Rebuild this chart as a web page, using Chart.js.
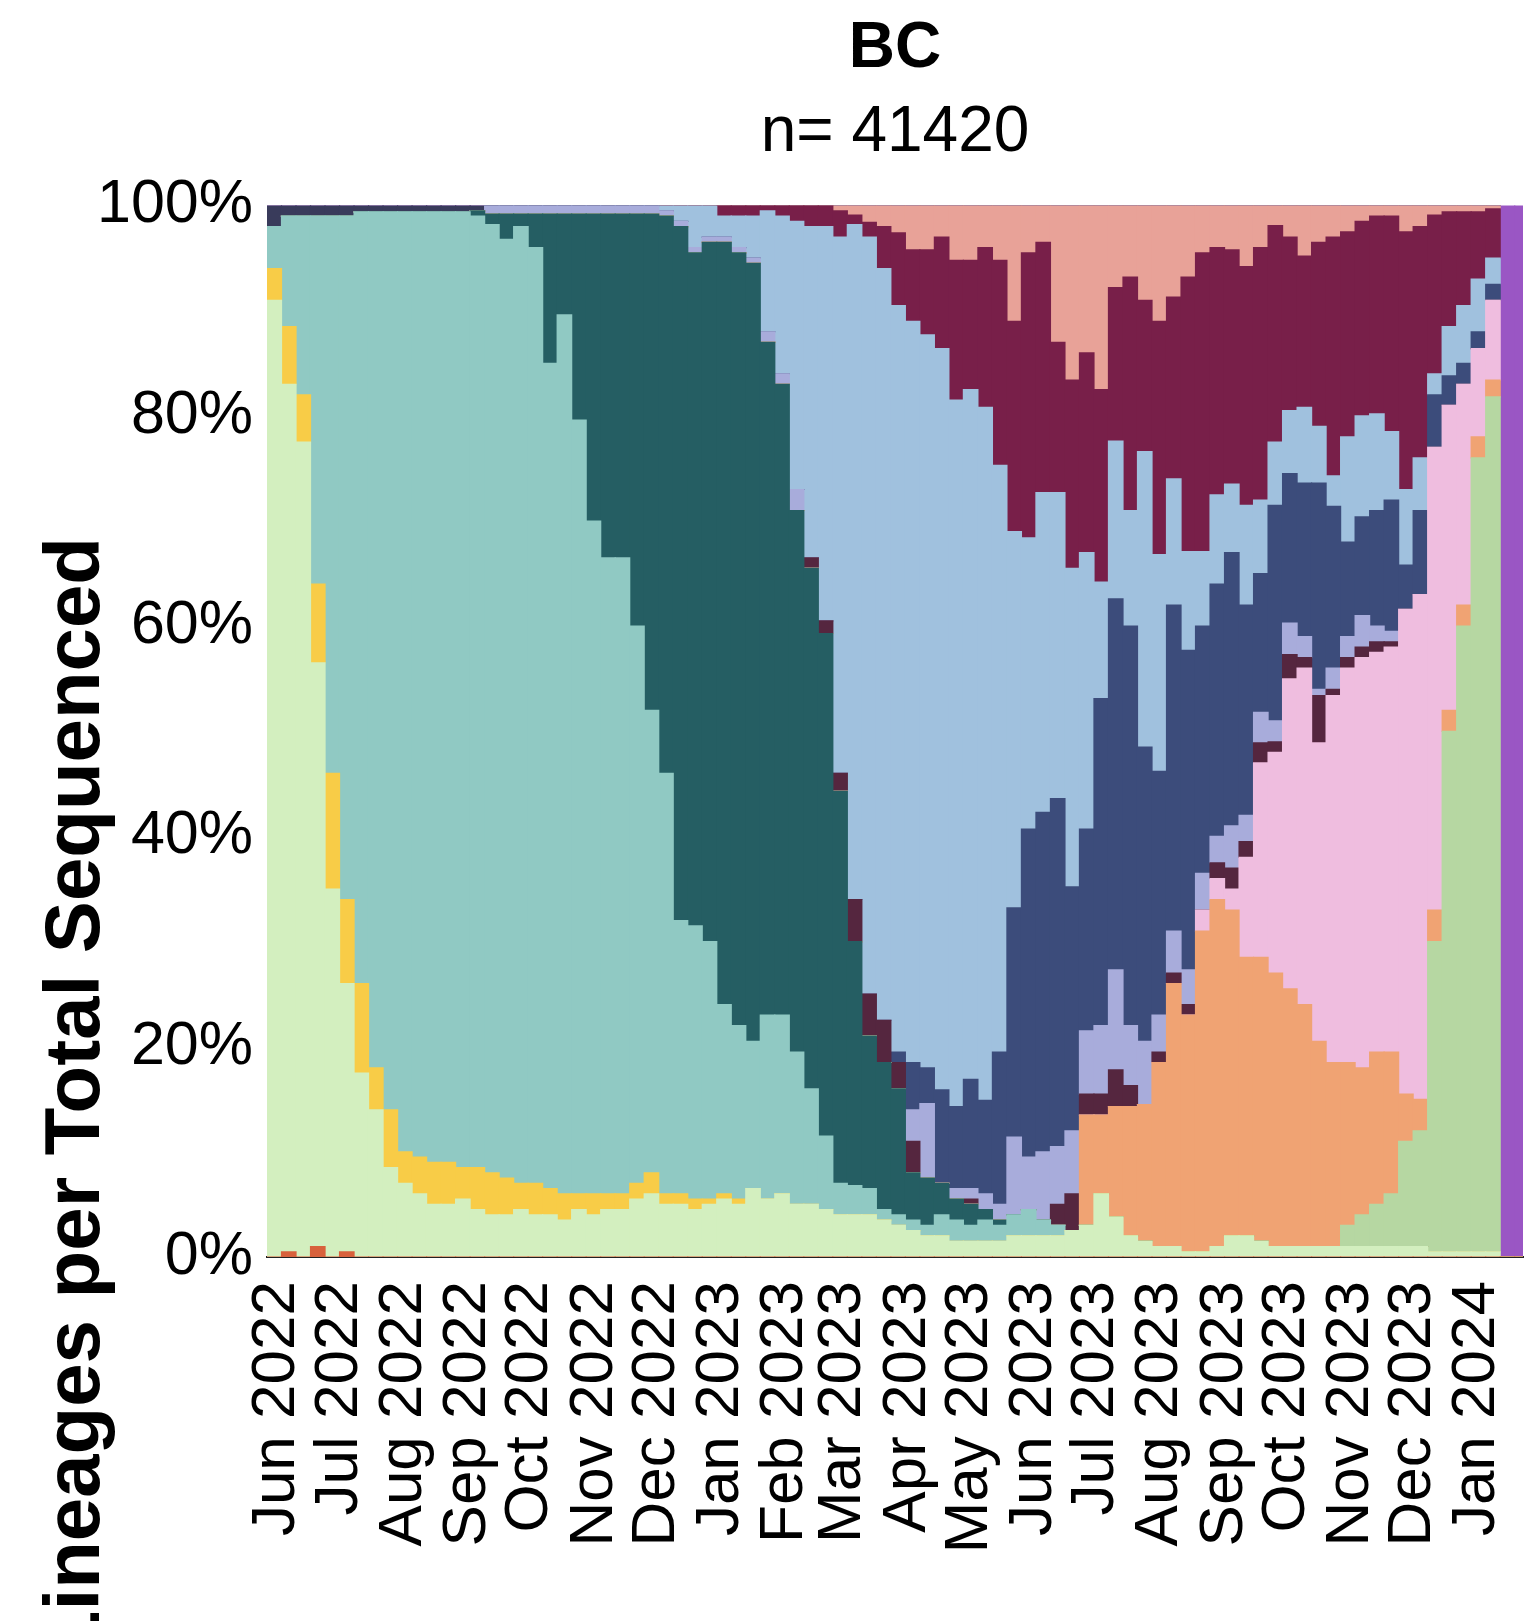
<!DOCTYPE html>
<html>
<head>
<meta charset="utf-8">
<title>BC lineages</title>
<script src="https://cdn.jsdelivr.net/npm/chart.js@4.4.1/dist/chart.umd.min.js"></script>
<style>
  html, body { margin: 0; padding: 0; background: #fff; }
  canvas { display: block; }
</style>
</head>
<body>
<canvas id="bc" width="1538" height="1621"></canvas>
<script>
// weekly share (%) per lineage group, first week starts 27 May 2022
// stack order = bottom to top
const red = [
  0, 0.5, 0, 1, 0, 0.5, 0, 0, 0, 0,
  0, 0, 0, 0, 0, 0, 0, 0, 0, 0,
  0, 0, 0, 0, 0, 0, 0, 0, 0, 0,
  0, 0, 0, 0, 0, 0, 0, 0, 0, 0,
  0, 0, 0, 0, 0, 0, 0, 0, 0, 0,
  0, 0, 0, 0, 0, 0, 0, 0, 0, 0,
  0, 0, 0, 0, 0, 0, 0, 0, 0, 0,
  0, 0, 0, 0, 0, 0, 0, 0, 0, 0,
  0, 0, 0, 0, 0, 0, 0
];
const paleGreen = [
  91, 82.5, 77.5, 55.5, 35, 25.5, 17.5, 14, 8.5, 7,
  6, 5, 5, 5.5, 4.5, 4, 4, 4.5, 4, 4,
  3.5, 4.5, 4, 4.5, 4.5, 5.5, 6, 5, 5, 4.5,
  5, 5.5, 5, 6.5, 5.5, 6, 5, 5, 4.5, 4,
  4, 4, 3.5, 3, 2.5, 2, 2, 1.5, 1.5, 1.5,
  1.5, 2, 2, 2, 2, 2.5, 3, 6, 3.8, 2,
  1.5, 1, 1, 0.5, 0.5, 1, 2, 2, 1.5, 1,
  1, 1, 1, 1, 1, 1, 1, 1, 1, 1,
  0.5, 0.5, 0.5, 0.5, 0.5, 0, 0
];
const yellow = [
  3, 5.5, 4.5, 7.5, 11, 8, 8.5, 4, 5.5, 3,
  3.5, 4, 4, 3, 4, 4, 3.5, 2.5, 3, 2.5,
  2.5, 1.5, 2, 1.5, 1.5, 1.5, 2, 1, 1, 1,
  0.5, 0.5, 0.5, 0, 0, 0, 0, 0, 0, 0,
  0, 0, 0, 0, 0, 0, 0, 0, 0, 0,
  0, 0, 0, 0, 0, 0, 0, 0, 0, 0,
  0, 0, 0, 0, 0, 0, 0, 0, 0, 0,
  0, 0, 0, 0, 0, 0, 0, 0, 0, 0,
  0, 0, 0, 0, 0, 0, 0
];
const lightTeal = [
  4, 10.5, 17, 35, 53, 65, 73.4, 81.4, 85.4, 89.4,
  89.9, 90.4, 90.4, 90.9, 90.5, 90.2, 89.3, 91, 89, 78.5,
  83.6, 73.6, 64, 60.5, 60.5, 53, 44, 40, 26, 26,
  24.5, 18, 16.5, 14, 17.5, 17, 14.5, 11, 7, 3,
  2.8, 2.5, 1, 1, 1, 1, 2, 2, 1.5, 2,
  1.5, 2, 2.5, 1.5, 1, 0, 0, 0, 0, 0,
  0, 0, 0, 0, 0, 0, 0, 0, 0, 0,
  0, 0, 0, 0, 0, 0, 0, 0, 0, 0,
  0, 0, 0, 0, 0, 0, 0
];
const darkTeal = [
  0, 0, 0, 0, 0, 0, 0, 0, 0, 0,
  0, 0, 0, 0, 0.5, 1, 2.4, 1.2, 3.2, 14.2,
  9.6, 19.6, 29.2, 32.7, 32.7, 39.2, 47.2, 53, 66, 64,
  66.5, 72.5, 73.5, 74, 64, 60, 51.5, 49.5, 47.8, 37.3,
  23.2, 14.5, 14, 12, 4.5, 4.5, 3, 2, 2, 1,
  0.5, 0, 0, 0, 0, 0, 0, 0, 0, 0,
  0, 0, 0, 0, 0, 0, 0, 0, 0, 0,
  0, 0, 0, 0, 0, 0, 0, 0, 0, 0,
  0, 0, 0, 0, 0, 0, 0
];
const sage = [
  0, 0, 0, 0, 0, 0, 0, 0, 0, 0,
  0, 0, 0, 0, 0, 0, 0, 0, 0, 0,
  0, 0, 0, 0, 0, 0, 0, 0, 0, 0,
  0, 0, 0, 0, 0, 0, 0, 0, 0, 0,
  0, 0, 0, 0, 0, 0, 0, 0, 0, 0,
  0, 0, 0, 0, 0, 0, 0, 0, 0, 0,
  0, 0, 0, 0, 0, 0, 0, 0, 0, 0,
  0, 0, 0, 0, 2, 3, 4, 5, 10, 11,
  29.5, 49.5, 59.5, 75.5, 81.3, 0, 0
];
const orange = [
  0, 0, 0, 0, 0, 0, 0, 0, 0, 0,
  0, 0, 0, 0, 0, 0, 0, 0, 0, 0,
  0, 0, 0, 0, 0, 0, 0, 0, 0, 0,
  0, 0, 0, 0, 0, 0, 0, 0, 0, 0,
  0, 0, 0, 0, 0, 0, 0, 0, 0, 0,
  0, 0, 0, 0, 0, 0, 10.5, 7.5, 10.5, 12.3,
  13, 17.5, 25, 22.5, 30.5, 33, 31, 26.5, 27, 26,
  24.5, 23, 19.5, 17.5, 15.5, 14, 14.5, 13.5, 4.5, 3,
  3, 2, 2, 2, 1.6, 0, 0
];
const pink = [
  0, 0, 0, 0, 0, 0, 0, 0, 0, 0,
  0, 0, 0, 0, 0, 0, 0, 0, 0, 0,
  0, 0, 0, 0, 0, 0, 0, 0, 0, 0,
  0, 0, 0, 0, 0, 0, 0, 0, 0, 0,
  0, 0, 0, 0, 0, 0, 0, 0, 0, 0,
  0, 0, 0, 0, 0, 0, 0, 0, 0, 0,
  0, 0, 0, 0, 2, 2, 2, 9.5, 18.5, 21,
  29.5, 32, 28.4, 34.9, 37.5, 39, 38, 38.5, 46.1, 48,
  44, 29, 21, 8.4, 7.6, 0, 0
];
const plum = [
  0, 0, 0, 0, 0, 0, 0, 0, 0, 0,
  0, 0, 0, 0, 0, 0, 0, 0, 0, 0,
  0, 0, 0, 0, 0, 0, 0, 0, 0, 0,
  0, 0, 0, 0, 0, 0, 0, 1, 1.2, 1.7,
  4, 4, 4, 2.5, 3, 0, 0, 0, 0.5, 0,
  0, 0, 0, 0, 2, 3.5, 2, 2, 3.5, 2,
  0, 1, 1, 1, 0, 1.5, 2, 1.5, 1.9, 1,
  2.3, 1, 4.5, 0.6, 1, 1, 1, 0.5, 0, 0,
  0, 0, 0, 0, 0, 0, 0
];
const lavender = [
  0, 0, 0, 0, 0, 0, 0, 0, 0, 0,
  0, 0, 0, 0, 0, 0.8, 0.8, 0.8, 0.8, 0.8,
  0.8, 0.8, 0.8, 0.8, 0.8, 0.8, 0.8, 0.5, 0.5, 0.5,
  0.5, 0.5, 0.5, 0.5, 1, 1, 2, 0, 0, 0,
  0, 0, 0, 0, 3, 7.1, 0, 1, 1, 1.5,
  1.5, 7.4, 5, 6.5, 5.5, 6, 6, 6.5, 9.5, 5.7,
  6, 3.5, 4, 3.3, 3.5, 2.5, 4, 2.5, 2.9, 2,
  3, 2, 0.6, 2, 2, 3, 1.5, 1, 0, 0,
  0, 0, 0, 0, 0, 0, 0
];
const navy = [
  0, 0, 0, 0, 0, 0, 0, 0, 0, 0,
  0, 0, 0, 0, 0, 0, 0, 0, 0, 0,
  0, 0, 0, 0, 0, 0, 0, 0, 0, 0,
  0, 0, 0, 0, 0, 0, 0, 0, 0, 0,
  0, 0, 0, 1, 4.5, 3.4, 8.9, 7.8, 10.4, 8.9,
  14.5, 21.8, 31.2, 32.3, 33.1, 23.2, 19.2, 31.1, 35.3, 38,
  28, 23.2, 31, 30.4, 23.5, 24, 26, 20, 13.2, 20.5,
  14.2, 14.6, 19.6, 15.4, 9, 9.4, 11, 12.5, 4.2, 8,
  5, 2.8, 2, 1.6, 1.5, 0, 0
];
const lightBlue = [
  0, 0, 0, 0, 0, 0, 0, 0, 0, 0,
  0, 0, 0, 0, 0, 0, 0, 0, 0, 0,
  0, 0, 0, 0, 0, 0, 0, 0.5, 1.5, 4,
  3, 2, 3, 4, 11.5, 15, 25.5, 31.5, 37.5, 51,
  64.2, 72, 71.5, 71, 70.5, 69.7, 70.5, 67.2, 65.6, 65.9,
  55.8, 35.8, 27.7, 30.4, 29.1, 30.3, 26.3, 11.1, 15, 11,
  28.1, 20.6, 12, 9.4, 7.1, 8.5, 6.5, 9.5, 7, 6,
  6, 7.2, 5.4, 2.9, 10, 9.6, 9.2, 6.5, 7.2, 5,
  2, 4.7, 5.5, 5, 2.5, 0, 0
];
const maroon = [
  0, 0, 0, 0, 0, 0, 0, 0, 0, 0,
  0, 0, 0, 0, 0, 0, 0, 0, 0, 0,
  0, 0, 0, 0, 0, 0, 0, 0, 0, 0,
  0, 1, 1, 1, 0.5, 1, 1.5, 2, 2, 2.5,
  0.9, 1.4, 4, 6.9, 6.8, 8.1, 10.6, 13.3, 12.3, 15.2,
  19.5, 20, 27.1, 23.8, 14.3, 17.9, 19, 18.3, 14.6, 22.2,
  14.4, 22.2, 17.3, 26.1, 28.4, 23.5, 22.3, 22.7, 24, 20.6,
  16.5, 14.4, 17.5, 22.7, 19.5, 18.5, 18.8, 20.5, 24.5, 22,
  15.1, 10.9, 8.9, 6.4, 4.7, 0, 0
];
const salmon = [
  0, 0, 0, 0, 0, 0, 0, 0, 0, 0,
  0, 0, 0, 0, 0, 0, 0, 0, 0, 0,
  0, 0, 0, 0, 0, 0, 0, 0, 0, 0,
  0, 0, 0, 0, 0, 0, 0, 0, 0, 0.5,
  0.9, 1.6, 2, 2.6, 4.2, 4.2, 3, 5.2, 5.2, 4,
  5.2, 11, 4.5, 3.5, 13, 16.6, 14, 17.5, 7.8, 6.8,
  9, 11, 8.7, 6.8, 4.5, 4, 4.2, 5.8, 4, 1.9,
  3, 4.8, 3.5, 3, 2.5, 1.5, 1, 1, 2.5, 2,
  0.9, 0.6, 0.6, 0.6, 0.3, 0, 0
];
const indigo = [
  2, 1, 1, 1, 1, 1, 0.6, 0.6, 0.6, 0.6,
  0.6, 0.6, 0.6, 0.6, 0.5, 0, 0, 0, 0, 0,
  0, 0, 0, 0, 0, 0, 0, 0, 0, 0,
  0, 0, 0, 0, 0, 0, 0, 0, 0, 0,
  0, 0, 0, 0, 0, 0, 0, 0, 0, 0,
  0, 0, 0, 0, 0, 0, 0, 0, 0, 0,
  0, 0, 0, 0, 0, 0, 0, 0, 0, 0,
  0, 0, 0, 0, 0, 0, 0, 0, 0, 0,
  0, 0, 0, 0, 0, 0, 0
];
const purple = [
  0, 0, 0, 0, 0, 0, 0, 0, 0, 0,
  0, 0, 0, 0, 0, 0, 0, 0, 0, 0,
  0, 0, 0, 0, 0, 0, 0, 0, 0, 0,
  0, 0, 0, 0, 0, 0, 0, 0, 0, 0,
  0, 0, 0, 0, 0, 0, 0, 0, 0, 0,
  0, 0, 0, 0, 0, 0, 0, 0, 0, 0,
  0, 0, 0, 0, 0, 0, 0, 0, 0, 0,
  0, 0, 0, 0, 0, 0, 0, 0, 0, 0,
  0, 0, 0, 0, 0, 100, 100
];

// x axis month labels, one per month start
const monthTickLabels = [
  'Jun 2022', 'Jul 2022', 'Aug 2022', 'Sep 2022', 'Oct 2022', 'Nov 2022', 'Dec 2022',
  'Jan 2023', 'Feb 2023', 'Mar 2023', 'Apr 2023', 'May 2023', 'Jun 2023', 'Jul 2023',
  'Aug 2023', 'Sep 2023', 'Oct 2023', 'Nov 2023', 'Dec 2023', 'Jan 2024'
];
const yTickLabels = ['0%', '20%', '40%', '60%', '80%', '100%'];

const titleText = 'BC';
const subtitleText = 'n= 41420';
const yTitleText = 'Lineages per Total Sequenced';

// x is counted in days from the first week start
const DAY = 86400000;
const origin = Date.UTC(2022, 4, 27);
const weekMid = red.map((v, i) => i * 7 + 3.5);
const monthTickDays = monthTickLabels.map((lbl, k) => (Date.UTC(2022, 5 + k, 1) - origin) / DAY);

const font = "'Liberation Sans', Arial, Helvetica, sans-serif";

const series = [
  ['red', red, '#d8613c'],
  ['paleGreen', paleGreen, '#d3efbf'],
  ['yellow', yellow, '#f8cc47'],
  ['lightTeal', lightTeal, '#90c9c3'],
  ['darkTeal', darkTeal, '#255e63'],
  ['sage', sage, '#b6d7a2'],
  ['orange', orange, '#f0a373'],
  ['pink', pink, '#efbddf'],
  ['plum', plum, '#55263f'],
  ['lavender', lavender, '#a8acdb'],
  ['navy', navy, '#3c4c7b'],
  ['lightBlue', lightBlue, '#a0c1de'],
  ['maroon', maroon, '#781f49'],
  ['salmon', salmon, '#e8a298'],
  ['indigo', indigo, '#393b5b'],
  ['purple', purple, '#9a56c4']
];

const datasets = series.map(([name, vals, col]) => ({
  label: name,
  data: vals,
  backgroundColor: col,
  borderWidth: 0,
  barPercentage: 1,
  categoryPercentage: 1,
  inflateAmount: 0.6
}));

// rotated y title, its top end sits below the middle like the source
const yTitlePlugin = {
  id: 'yTitle',
  afterDraw(chart) {
    const ctx = chart.ctx;
    ctx.save();
    ctx.font = 'bold 78px ' + font;
    ctx.fillStyle = '#000';
    ctx.translate(99, 537);
    ctx.rotate(-Math.PI / 2);
    ctx.textAlign = 'right';
    ctx.textBaseline = 'alphabetic';
    ctx.fillText(yTitleText, 0, 0);
    ctx.restore();
  }
};

const config = {
  type: 'bar',
  data: { labels: weekMid, datasets },
  options: {
    responsive: false,
    devicePixelRatio: 1,
    animation: false,
    layout: { padding: { left: 0, right: 15, top: 0, bottom: 0 } },
    plugins: {
      legend: { display: false },
      tooltip: { enabled: false },
      title: {
        display: true,
        text: titleText,
        fullSize: false,
        color: '#000',
        font: { family: font, size: 64, weight: 'bold' },
        padding: { top: 11, bottom: 0 }
      },
      subtitle: {
        display: true,
        text: subtitleText,
        fullSize: false,
        color: '#000',
        font: { family: font, size: 64, weight: 'normal' },
        padding: { top: 7, bottom: 34 }
      }
    },
    scales: {
      x: {
        type: 'linear',
        stacked: true,
        min: 0,
        max: 606,
        offset: false,
        z: 1,
        grid: { display: false, drawTicks: false },
        border: { display: true, color: '#222', width: 2 },
        afterBuildTicks: (axis) => {
          axis.ticks = monthTickDays.map(v => ({ value: v }));
        },
        afterFit: (scale) => {
          scale.height = 364;
          scale.paddingLeft = 0;
          scale.paddingRight = 0;
        },
        ticks: {
          autoSkip: false,
          maxRotation: 90,
          minRotation: 90,
          padding: 24,
          color: '#000',
          font: { family: font, size: 62 },
          callback: (value, idx) => monthTickLabels[idx]
        }
      },
      y: {
        stacked: true,
        min: 0,
        max: 100,
        grid: { display: false, drawTicks: false },
        border: { display: false },
        afterFit: (scale) => { scale.width = 267; },
        ticks: {
          stepSize: 20,
          padding: 14,
          color: '#000',
          font: { family: font, size: 61 },
          callback: (value) => yTickLabels[value / 20]
        }
      }
    }
  },
  plugins: [yTitlePlugin]
};

const canvas = document.getElementById('bc');
const chart = new Chart(canvas, config);
</script>
</body>
</html>
